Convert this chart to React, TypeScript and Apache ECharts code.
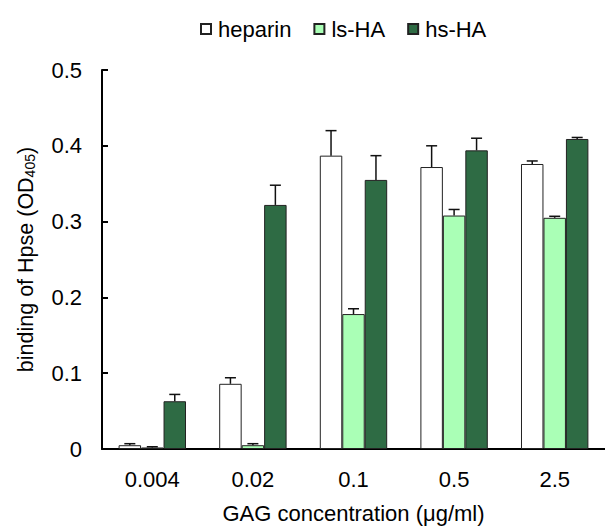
import React, { useEffect, useRef } from "react";
import * as echarts from "echarts";

const categories = ["0.004", "0.02", "0.1", "0.5", "2.5"];
const seriesNames = ["heparin", "ls-HA", "hs-HA"];
const heparin = [0.005, 0.086, 0.387, 0.372, 0.376];
const heparinErr = [0.002, 0.008, 0.033, 0.028, 0.004];
const lsHA = [0.002, 0.005, 0.178, 0.308, 0.305];
const lsHAErr = [0.001, 0.002, 0.007, 0.008, 0.002];
const hsHA = [0.063, 0.322, 0.355, 0.394, 0.409];
const hsHAErr = [0.009, 0.026, 0.032, 0.016, 0.002];
const colors = ["#ffffff", "#aaffb6", "#2e6b44"];

const FONT = "Liberation Sans, Arial, sans-serif";

export default function App() {
  const ref = useRef<HTMLDivElement>(null);
  useEffect(() => {
    if (!ref.current) return;
    const chart = echarts.init(ref.current, undefined, { renderer: "svg" });
    const values = [heparin, lsHA, hsHA];
    const errs = [heparinErr, lsHAErr, hsHAErr];
    const gapRatio = 0.33;

    const barSeries = seriesNames.map((name, i) => ({
      name,
      type: "bar",
      data: values[i],
      barGap: "0%",
      barCategoryGap: "33%",
      itemStyle: { color: colors[i], borderColor: "#222", borderWidth: 1 },
      z: 2,
    }));

    const errData: number[][] = [];
    values.forEach((vals, s) => {
      vals.forEach((v, c) => errData.push([c, v, v + errs[s][c], s]));
    });

    const errSeries = {
      type: "custom",
      name: "err",
      z: 5,
      data: errData,
      renderItem: (params: any, api: any) => {
        const c = api.value(0);
        const v = api.value(1);
        const top = api.value(2);
        const s = api.value(3);
        const band = api.size([1, 0])[0];
        const barW = (band * (1 - gapRatio)) / 3;
        const p0 = api.coord([c, v]);
        const p1 = api.coord([c, top]);
        const x = p0[0] + (s - 1) * barW;
        const cap = 5.5;
        return {
          type: "group",
          children: [
            {
              type: "line",
              shape: { x1: x, y1: p0[1], x2: x, y2: p1[1] },
              style: { stroke: "#111", lineWidth: 1.5 },
            },
            {
              type: "line",
              shape: { x1: x - cap, y1: p1[1], x2: x + cap, y2: p1[1] },
              style: { stroke: "#111", lineWidth: 1.5 },
            },
          ],
        };
      },
    };

    chart.setOption({
      animation: false,
      textStyle: { fontFamily: FONT },
      legend: {
        data: seriesNames,
        top: 13,
        left: 195,
        itemWidth: 10,
        itemHeight: 10,
        itemGap: 22,
        icon: "rect",
        textStyle: { fontSize: 22, color: "#000", fontFamily: FONT, padding: [0, 0, 0, 2] },
      },
      grid: { left: 102, top: 70, bottom: 76, right: -10 },
      xAxis: {
        type: "category",
        data: categories,
        axisLine: { lineStyle: { color: "#000", width: 2 } },
        axisTick: { inside: true, length: 6, lineStyle: { color: "#000", width: 2 } },
        axisLabel: { fontSize: 22, color: "#000", margin: 19, fontFamily: FONT },
        name: "GAG concentration (μg/ml)",
        nameLocation: "middle",
        nameGap: 53,
        nameTextStyle: { fontSize: 22, color: "#000", fontFamily: FONT },
      },
      yAxis: {
        type: "value",
        min: 0,
        max: 0.5,
        interval: 0.1,
        axisLine: { show: true, lineStyle: { color: "#000", width: 2 } },
        axisTick: { show: true, inside: true, length: 6, lineStyle: { color: "#000", width: 2 } },
        splitLine: { show: false },
        axisLabel: {
          fontSize: 22,
          color: "#000",
          margin: 20,
          fontFamily: FONT,
          formatter: (v: number) => (v === 0 ? "0" : v.toFixed(1)),
        },
        name: "binding of Hpse (OD{sub|405})",
        nameLocation: "middle",
        nameGap: 65,
        nameTextStyle: {
          fontSize: 21.5,
          color: "#000",
          fontFamily: FONT,
          rich: {
            sub: { fontSize: 14, verticalAlign: "bottom", padding: [9, 0, 0, 0], color: "#000", fontFamily: FONT },
          },
        },
      },
      series: [...barSeries, errSeries],
    });
    return () => chart.dispose();
  }, []);
  return <div ref={ref} style={{ width: 605, height: 529, position: "absolute", left: 0, top: 0 }} />;
}
